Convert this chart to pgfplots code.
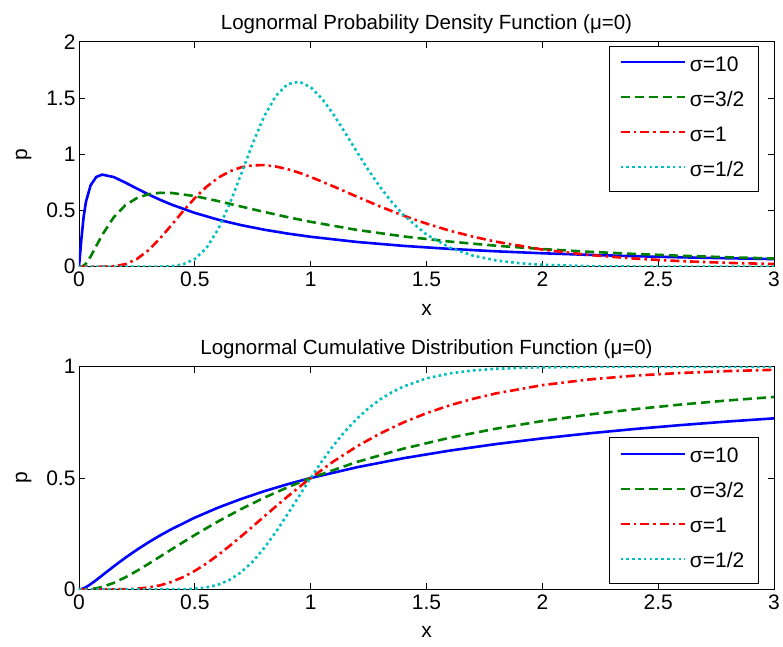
\documentclass[border=0pt]{standalone}
\usepackage{pgfplots}
\pgfplotsset{compat=1.18}
\usepackage{pgfplotstable}
\usepackage{fontspec}
\setmainfont{Liberation Sans}
\definecolor{mblue}{RGB}{0,0,255}
\definecolor{mgreen}{RGB}{0,128,0}
\definecolor{mred}{RGB}{255,0,0}
\definecolor{mcyan}{RGB}{0,191,191}

% sigma label "10" (blue)
\pgfplotstableread{
x      pdf     cdf
0      0       0
0.01   0.2389  0.0011
0.02   0.4430  0.0046
0.03   0.5767  0.0097
0.05   0.7238  0.0229
0.075  0.7984  0.0421
0.1    0.8187  0.0624
0.15   0.7969  0.1030
0.2    0.7479  0.1417
0.25   0.6941  0.1777
0.3    0.6424  0.2111
0.35   0.5948  0.2420
0.4    0.5517  0.2706
0.5    0.4781  0.3220
0.6    0.4183  0.3667
0.7    0.3694  0.4060
0.8    0.3288  0.4409
0.9    0.2948  0.4720
1.0    0.2660  0.5000
1.2    0.2200  0.5484
1.4    0.1853  0.5888
1.6    0.1583  0.6230
1.8    0.1368  0.6524
2.0    0.1195  0.6780
2.2    0.1053  0.7005
2.4    0.0935  0.7203
2.6    0.0835  0.7379
2.8    0.0751  0.7538
3.0    0.0678  0.7680
}\tblA

% sigma label "3/2" (green)
\pgfplotstableread{
x      pdf     cdf
0      0       0
0.01   0.0010  0.0000
0.02   0.0095  0.0000
0.03   0.0285  0.0002
0.05   0.0898  0.0014
0.075  0.1857  0.0048
0.1    0.2816  0.0107
0.15   0.4399  0.0289
0.2    0.5463  0.0538
0.25   0.6104  0.0828
0.3    0.6442  0.1143
0.35   0.6570  0.1469
0.4    0.6554  0.1798
0.5    0.6275  0.2441
0.6    0.5836  0.3047
0.7    0.5348  0.3607
0.8    0.4864  0.4117
0.9    0.4408  0.4580
1.0    0.3989  0.5000
1.2    0.3270  0.5723
1.4    0.2693  0.6317
1.6    0.2233  0.6808
1.8    0.1865  0.7217
2.0    0.1569  0.7559
2.2    0.1329  0.7848
2.4    0.1133  0.8094
2.6    0.0972  0.8303
2.8    0.0839  0.8484
3.0    0.0727  0.8640
}\tblB

% sigma label "1" (red)
\pgfplotstableread{
x      pdf     cdf
0      0       0
0.05   0.0000  0.0000
0.1    0.0002  0.0000
0.15   0.0040  0.0001
0.2    0.0225  0.0006
0.25   0.0683  0.0028
0.3    0.1465  0.0080
0.35   0.2516  0.0179
0.4    0.3720  0.0334
0.45   0.4954  0.0551
0.5    0.6104  0.0828
0.55   0.7099  0.1159
0.6    0.7892  0.1535
0.65   0.8469  0.1945
0.7    0.8838  0.2378
0.75   0.9015  0.2825
0.8    0.9029  0.3277
0.85   0.8904  0.3726
0.9    0.8671  0.4166
0.95   0.8355  0.4591
1.0    0.7979  0.5000
1.1    0.7123  0.5756
1.2    0.6222  0.6423
1.3    0.5348  0.7001
1.4    0.4544  0.7495
1.5    0.3829  0.7913
1.6    0.3206  0.8264
1.7    0.2673  0.8557
1.8    0.2221  0.8801
2.0    0.1526  0.9172
2.2    0.1046  0.9426
2.4    0.0718  0.9600
2.6    0.0494  0.9720
2.8    0.0342  0.9803
3.0    0.0238  0.9860
}\tblC

% sigma label "1/2" (cyan)
\pgfplotstableread{
x      pdf     cdf
0      0       0
0.35   0.0007  0.0000
0.4    0.0048  0.0001
0.45   0.0216  0.0007
0.5    0.0683  0.0028
0.55   0.1664  0.0084
0.6    0.3298  0.0205
0.65   0.5562  0.0424
0.7    0.8238  0.0768
0.75   1.0974  0.1249
0.8    1.3396  0.1860
0.85   1.5198  0.2578
0.9    1.6223  0.3367
0.95   1.6448  0.4187
1.0    1.5958  0.5000
1.05   1.4911  0.5774
1.1    1.3490  0.6485
1.15   1.1869  0.7119
1.2    1.0194  0.7671
1.25   0.8572  0.8140
1.3    0.7077  0.8530
1.35   0.5751  0.8850
1.4    0.4607  0.9108
1.5    0.2855  0.9476
1.6    0.1704  0.9699
1.7    0.0987  0.9831
1.8    0.0559  0.9906
1.9    0.0311  0.9949
2.0    0.0171  0.9972
2.2    0.0050  0.9992
2.4    0.0014  0.9998
2.6    0.0004  1.0000
3.0    0.0000  1.0000
}\tblD

\pgfplotsset{
  mstyle/.style={
    scale only axis, width=695pt,
    xmin=0, xmax=3,
    xtick={0,0.5,1,1.5,2,2.5,3},
    xticklabels={0,0.5,1,1.5,2,2.5,3},
    tick align=inside, major tick length=6pt,
    xtick pos=both, ytick pos=both,
    axis line style={line width=0.8pt},
    every tick/.style={black, line width=0.8pt},
    tick label style={font=\fontsize{21}{21}\selectfont},
    label style={font=\fontsize{21}{21}\selectfont},
    title style={font=\fontsize{20.5}{20.5}\selectfont, yshift=-2pt},
    xlabel={x}, ylabel={p},
    xticklabel style={yshift=-2pt},
    xlabel style={yshift=-10pt},
    ylabel style={yshift=8pt},
    legend cell align=left,
    legend style={draw=black, line width=0.8pt, font=\fontsize{21}{21}\selectfont,
      inner xsep=10pt, inner ysep=8pt, row sep=11pt,
      nodes={text height=15pt, text depth=5pt, inner xsep=4pt}},
    legend image code/.code={\draw[#1] (0pt,4pt) -- (64pt,4pt);},
  },
  lb/.style={mblue, line width=2.6pt},
  lg/.style={mgreen, line width=2.6pt, dash pattern=on 9pt off 5pt},
  lr/.style={mred, line width=2.6pt, dash pattern=on 9pt off 4pt on 2.5pt off 4pt},
  lc/.style={mcyan, line width=2.6pt, dash pattern=on 2.6pt off 3.2pt},
}

\begin{document}
\begin{tikzpicture}
\path[use as bounding box] (-79pt,-379.3pt) rectangle (704pt,266.7pt);
\begin{axis}[mstyle, at={(0pt,0pt)}, anchor=south west, height=225pt,
  ymin=0, ymax=2, ytick={0,0.5,1,1.5,2}, yticklabels={0,0.5,1,1.5,2},
  title={Lognormal Probability Density Function (μ=0)},
  legend style={at={(0.978,0.982)}, anchor=north east}]
\addplot[lb] table[x=x,y=pdf] {\tblA};
\addplot[lg] table[x=x,y=pdf] {\tblB};
\addplot[lr] table[x=x,y=pdf] {\tblC};
\addplot[lc] table[x=x,y=pdf] {\tblD};
\legend{σ=10, σ=3/2, σ=1, σ=1/2}
\end{axis}
\begin{axis}[mstyle, at={(0pt,-322.6pt)}, anchor=south west, height=222.6pt,
  ymin=0, ymax=1, ytick={0,0.5,1}, yticklabels={0,0.5,1},
  title={Lognormal Cumulative Distribution Function (μ=0)},
  legend style={at={(0.978,0.027)}, anchor=south east}]
\addplot[lb] table[x=x,y=cdf] {\tblA};
\addplot[lg] table[x=x,y=cdf] {\tblB};
\addplot[lr] table[x=x,y=cdf] {\tblC};
\addplot[lc] table[x=x,y=cdf] {\tblD};
\legend{σ=10, σ=3/2, σ=1, σ=1/2}
\end{axis}
\end{tikzpicture}
\end{document}
